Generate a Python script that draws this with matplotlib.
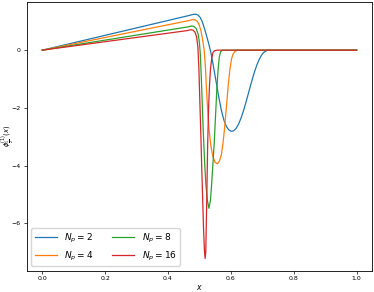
import matplotlib
matplotlib.use("Agg")
import matplotlib.pyplot as plt

# values
x_np2 = [0, 0.470, 0.480, 0.488, 0.495, 0.502, 0.509, 0.516, 0.523, 0.530, 0.537, 0.545,
         0.553, 0.561, 0.569, 0.577, 0.585, 0.593, 0.601, 0.608, 0.616, 0.624, 0.632, 0.640,
         0.648, 0.655, 0.662, 0.669, 0.676, 0.683, 0.690, 0.697, 0.704, 0.711, 0.718, 1.0]
y_np2 = [0, 1.21, 1.24, 1.245, 1.22, 1.14, 0.98, 0.75, 0.48, 0.2, -0.12, -0.6,
         -1.1, -1.6, -2.05, -2.4, -2.63, -2.76, -2.81, -2.80, -2.72, -2.57, -2.36, -2.10,
         -1.80, -1.52, -1.24, -0.97, -0.72, -0.50, -0.32, -0.18, -0.08, -0.03, 0.0, 0.0]

x_np4 = [0, 0.468, 0.478, 0.486, 0.493, 0.499, 0.505, 0.510, 0.515, 0.519, 0.523, 0.527,
         0.531, 0.536, 0.542, 0.549, 0.557, 0.564, 0.570, 0.575, 0.579, 0.583, 0.587, 0.592,
         0.597, 0.602, 0.607, 0.613, 0.620, 1.0]
y_np4 = [0, 1.03, 1.06, 1.05, 1.0, 0.88, 0.66, 0.36, 0.0, -0.6, -1.5, -2.2,
         -2.8, -3.3, -3.65, -3.88, -3.94, -3.83, -3.6, -3.2, -2.8, -2.3, -1.8, -1.15,
         -0.65, -0.3, -0.13, -0.04, 0.0, 0.0]

x_np8 = [0, 0.465, 0.475, 0.483, 0.490, 0.496, 0.500, 0.503, 0.506, 0.509, 0.512, 0.516,
         0.520, 0.525, 0.530, 0.535, 0.539, 0.543, 0.547, 0.551, 0.555, 0.559, 0.563, 0.567,
         0.572, 1.0]
y_np8 = [0, 0.81, 0.84, 0.82, 0.74, 0.55, 0.25, -0.2, -1.0, -1.9, -2.8, -3.8,
         -4.6, -5.2, -5.48, -5.2, -4.6, -3.9, -3.2, -2.3, -1.4, -0.7, -0.25, -0.06,
         0.0, 0.0]

x_np16 = [0, 0.462, 0.472, 0.480, 0.486, 0.491, 0.495, 0.498, 0.501, 0.504, 0.507, 0.510,
          0.513, 0.516, 0.518, 0.520, 0.523, 0.526, 0.529, 0.532, 0.535, 0.539, 0.543, 0.548,
          0.555, 1.0]
y_np16 = [0, 0.68, 0.71, 0.69, 0.62, 0.45, 0.1, -0.6, -1.7, -2.8, -4.0, -5.1,
          -6.2, -7.0, -7.22, -7.0, -5.3, -3.3, -2.0, -1.2, -0.65, -0.28, -0.08, -0.02,
          0.0, 0.0]

labels = [r"$N_p = 2$", r"$N_p = 4$", r"$N_p = 8$", r"$N_p = 16$"]

fig = plt.figure(figsize=(3.74, 2.92), dpi=100)
ax = fig.add_axes([0.071, 0.073, 0.9247, 0.92])

ax.plot(x_np2, y_np2, lw=0.9, label=labels[0])
ax.plot(x_np4, y_np4, lw=0.9, label=labels[1])
ax.plot(x_np8, y_np8, lw=0.9, label=labels[2])
ax.plot(x_np16, y_np16, lw=0.9, label=labels[3])

ax.set_xticks([0.0, 0.2, 0.4, 0.6, 0.8, 1.0])
ax.set_yticks([-6, -4, -2, 0])
ax.tick_params(labelsize=4.5, length=2, width=0.5, pad=2)
for s in ax.spines.values():
    s.set_linewidth(0.6)
ax.set_xlabel(r"$x$", fontsize=5.5, labelpad=1)
ax.set_ylabel(r"$\phi_{\frac{1}{2}}^{(1)}(x)$", fontsize=4.8)
ax.yaxis.set_label_coords(-0.028, 0.5)
ax.legend(ncol=2, loc="lower left", fontsize=6.5, handlelength=2.5,
          columnspacing=2.0, framealpha=0.8)

fig.savefig("out.png", dpi=100)
